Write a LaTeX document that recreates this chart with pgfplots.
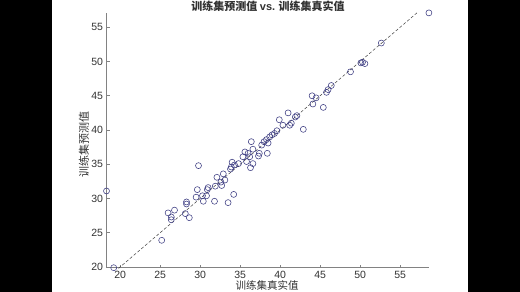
\documentclass[border=0pt]{standalone}
\usepackage{fontspec}
\setmainfont{Liberation Sans}
\newfontfamily\cjk{Noto Sans CJK SC}
\usepackage{pgfplots}
\pgfplotsset{compat=1.18}
\definecolor{mk}{RGB}{60,60,130}
\definecolor{axc}{RGB}{130,130,130}
\definecolor{txc}{RGB}{50,50,50}
\begin{document}
\begin{tikzpicture}
\useasboundingbox (0pt,0pt) rectangle (520pt,292pt);
\fill[white] (0pt,0pt) rectangle (520pt,292pt);
\fill[black] (0pt,0pt) rectangle (52pt,292pt);
\fill[black] (468pt,0pt) rectangle (520pt,292pt);
\begin{axis}[
  at={(106.5pt,24.3pt)}, anchor=south west,
  scale only axis, width=322.4pt, height=254.8pt,
  xmin=18.3, xmax=58.6, ymin=19.9, ymax=57.1,
  axis x line*=bottom, axis y line*=left,
  axis line style={axc, line width=0.6pt},
  xtick={20,25,...,55}, ytick={20,25,...,55},
  tick align=inside, major tick length=3pt,
  tick style={axc, line width=0.6pt},
  ticklabel style={font=\fontsize{10.5}{12}\selectfont, text=txc},
  /pgf/number format/assume math mode=true,
  clip=false,
]
\addplot[black!75, dashed, dash pattern=on 3pt off 2pt, line width=0.5pt] coordinates {(19.8,19.8) (57.1,57.1)};
\addplot[only marks, mark=o, mark size=3pt, mk, mark options={line width=0.55pt}] coordinates {
(18.3,31.1) (19.2,19.9) (25.2,23.9) (26.0,27.9) (26.4,27.3) (26.4,26.9) (26.8,28.3)
(28.15,27.8) (28.3,29.5) (28.3,29.2) (28.65,27.2) (29.5,30.2) (29.65,31.3) (29.8,34.8)
(30.3,30.4) (30.4,29.6) (30.8,30.4) (30.9,31.3) (31.0,31.6) (31.8,29.6) (31.9,31.8)
(32.1,33.1) (32.6,32.4) (32.7,31.9) (32.9,33.6) (33.1,32.7) (33.5,29.4) (33.8,34.3)
(33.9,34.6) (34.0,35.3) (34.2,30.6) (34.3,34.9) (34.8,35.1) (35.35,36.1) (35.6,36.8)
(35.8,35.4) (36.0,36.6) (36.2,36.1) (36.3,34.5) (36.4,38.3) (36.6,37.2) (36.6,35.1)
(37.3,36.2) (37.4,36.6) (37.7,37.8) (38.0,38.3) (38.3,38.6) (38.4,36.6) (38.5,38.1)
(38.7,39.0) (39.0,39.3) (39.3,39.5) (39.6,39.9) (39.9,41.5) (40.35,40.7) (41.0,42.5)
(41.2,40.7) (41.4,41.0) (41.9,41.9) (42.1,42.1) (42.9,40.1) (44.0,45.0) (44.5,44.7)
(44.1,43.8) (45.4,43.3) (45.8,45.5) (46.0,45.9) (46.4,46.5) (48.8,48.5) (50.1,49.8)
(50.3,49.9) (50.6,49.7) (52.65,52.7) (58.6,57.1)
};
\end{axis}
\node[text=txc, font=\cjk\bfseries\fontsize{11}{12}\selectfont, anchor=center] at (268pt,286pt) {训练集预测值 {\rmfamily vs.} 训练集真实值};
\node[text=txc, font=\cjk\fontsize{10.5}{12}\selectfont, anchor=center] at (267pt,6.5pt) {训练集真实值};
\node[text=txc, font=\cjk\fontsize{11}{12}\selectfont, anchor=center, rotate=90] at (84pt,147pt) {训练集预测值};
\end{tikzpicture}
\end{document}
